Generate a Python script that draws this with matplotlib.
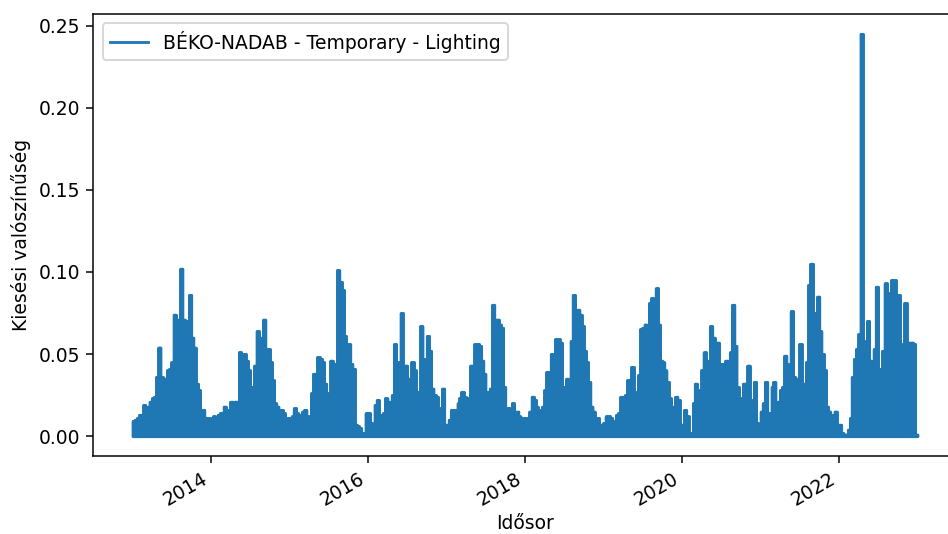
import matplotlib
matplotlib.use("Agg")
import matplotlib.pyplot as plt
import matplotlib.dates as mdates
import numpy as np
import pandas as pd

# peak outage probability per ~10 day slot (days 1, 11, 21 of each month)
y2013 = [0.009, 0.010, 0.011, 0.013, 0.012, 0.019, 0.016, 0.018, 0.021, 0.023, 0.024, 0.036,
         0.054, 0.036, 0.035, 0.018, 0.040, 0.041, 0.045, 0.074, 0.030, 0.071, 0.102, 0.071,
         0.070, 0.065, 0.086, 0.060, 0.054, 0.032, 0.028, 0.016, 0.016, 0.011, 0.011, 0.010]
y2014 = [0.011, 0.012, 0.010, 0.013, 0.014, 0.014, 0.018, 0.015, 0.016, 0.021, 0.020, 0.021,
         0.006, 0.051, 0.050, 0.050, 0.046, 0.040, 0.023, 0.030, 0.043, 0.064, 0.048, 0.060,
         0.071, 0.040, 0.053, 0.045, 0.034, 0.020, 0.018, 0.016, 0.016, 0.014, 0.007, 0.011]
y2015 = [0.011, 0.012, 0.017, 0.014, 0.013, 0.011, 0.015, 0.016, 0.012, 0.003, 0.026, 0.038,
         0.003, 0.048, 0.047, 0.045, 0.032, 0.019, 0.026, 0.046, 0.044, 0.035, 0.101, 0.094,
         0.089, 0.061, 0.025, 0.056, 0.044, 0.041, 0.007, 0.006, 0.005, 0.002, 0.002, 0.014]
y2016 = [0.014, 0.008, 0.007, 0.019, 0.022, 0.009, 0.013, 0.014, 0.023, 0.021, 0.017, 0.025,
         0.056, 0.028, 0.045, 0.075, 0.037, 0.043, 0.035, 0.025, 0.045, 0.040, 0.024, 0.027,
         0.067, 0.047, 0.045, 0.061, 0.052, 0.029, 0.025, 0.024, 0.014, 0.017, 0.029, 0.007]
y2017 = [0.007, 0.010, 0.016, 0.016, 0.008, 0.020, 0.023, 0.027, 0.024, 0.023, 0.010, 0.043,
         0.029, 0.056, 0.056, 0.055, 0.046, 0.038, 0.010, 0.027, 0.029, 0.080, 0.067, 0.071,
         0.068, 0.066, 0.030, 0.017, 0.017, 0.015, 0.020, 0.007, 0.015, 0.012, 0.011, 0.011]
y2018 = [0.011, 0.010, 0.015, 0.024, 0.022, 0.018, 0.016, 0.016, 0.018, 0.028, 0.039, 0.035,
         0.050, 0.050, 0.059, 0.059, 0.057, 0.030, 0.025, 0.035, 0.028, 0.058, 0.086, 0.050,
         0.077, 0.074, 0.067, 0.052, 0.045, 0.033, 0.018, 0.015, 0.011, 0.011, 0.007, 0.002]
y2019 = [0.008, 0.012, 0.012, 0.011, 0.001, 0.009, 0.013, 0.014, 0.024, 0.019, 0.025, 0.034,
         0.030, 0.042, 0.027, 0.025, 0.037, 0.065, 0.066, 0.068, 0.042, 0.081, 0.084, 0.062,
         0.090, 0.068, 0.046, 0.045, 0.040, 0.033, 0.023, 0.011, 0.018, 0.024, 0.022, 0.007]
y2020 = [0.007, 0.016, 0.012, 0.002, 0.002, 0.020, 0.032, 0.028, 0.022, 0.040, 0.051, 0.046,
         0.040, 0.067, 0.060, 0.055, 0.057, 0.044, 0.044, 0.044, 0.046, 0.045, 0.051, 0.080,
         0.055, 0.030, 0.023, 0.019, 0.032, 0.018, 0.043, 0.022, 0.020, 0.033, 0.008, 0.006]
y2021 = [0.015, 0.020, 0.033, 0.013, 0.014, 0.030, 0.033, 0.010, 0.021, 0.028, 0.030, 0.049,
         0.020, 0.044, 0.076, 0.036, 0.035, 0.033, 0.056, 0.031, 0.032, 0.045, 0.092, 0.105,
         0.075, 0.067, 0.085, 0.064, 0.050, 0.040, 0.018, 0.015, 0.013, 0.010, 0.015, 0.007]
y2022 = [0.007, 0.002, 0.001, 0.001, 0.004, 0.011, 0.036, 0.047, 0.053, 0.062, 0.245, 0.058,
         0.052, 0.070, 0.046, 0.030, 0.053, 0.091, 0.041, 0.041, 0.052, 0.093, 0.087, 0.085,
         0.095, 0.095, 0.081, 0.086, 0.056, 0.020, 0.081, 0.038, 0.057, 0.057, 0.056, 0.001]

years = [2013, 2014, 2015, 2016, 2017, 2018, 2019, 2020, 2021, 2022]
yearly = [y2013, y2014, y2015, y2016, y2017, y2018, y2019, y2020, y2021, y2022]
slot_days = [1, 11, 21]

dates = []
vals = []
for yr, yv in zip(years, yearly):
    k = 0
    for m in range(1, 13):
        for d in slot_days:
            dates.append(pd.Timestamp(yr, m, d))
            vals.append(yv[k])
            k += 1
dates.append(pd.Timestamp(2023, 1, 1))
vals.append(vals[-1])

DPI = 135
fig = plt.figure(figsize=(948 / DPI, 534 / DPI), dpi=DPI)
# axes run past the right edge (the original was cropped there)
ax = fig.add_axes([0.0984, 0.1455, 0.9108, 0.8288])

c = "#1f77b4"
ax.plot(dates, vals, drawstyle="steps-post", color=c, lw=1.5,
        label="BÉKO-NADAB - Temporary - Lighting")
ax.fill_between(dates, vals, step="post", color=c, lw=1.5)

ax.xaxis.set_major_locator(mdates.YearLocator(2))
ax.xaxis.set_major_formatter(mdates.DateFormatter("%Y"))
plt.setp(ax.get_xticklabels(), rotation=30, ha="right")
ax.set_xlabel("Idősor", labelpad=2.5)
ax.set_ylabel("Kiesési valószínűség")
ax.legend(loc="upper left")

fig.savefig("out.png", dpi=DPI)
